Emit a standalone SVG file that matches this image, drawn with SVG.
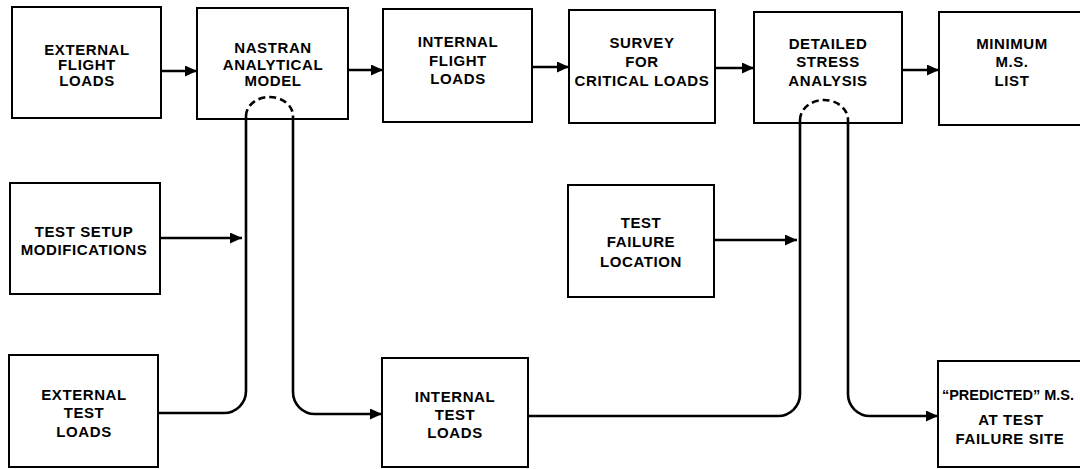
<svg xmlns="http://www.w3.org/2000/svg" width="1080" height="469" viewBox="0 0 1080 469">
<style>
.box{fill:#fff;stroke:#000;stroke-width:2}
.t{font-family:"Liberation Sans",Arial,sans-serif;font-weight:bold;font-size:15px;letter-spacing:0.6px;text-anchor:middle;fill:#000}
.c{fill:none;stroke:#000;stroke-width:2.6}
.d{fill:none;stroke:#000;stroke-width:2.6;stroke-dasharray:7 4}
</style>
<defs>
<marker id="ah" markerUnits="userSpaceOnUse" markerWidth="12" markerHeight="11" refX="12" refY="5.5" orient="auto">
<path d="M0,0 L12,5.5 L0,11 z" fill="#000"/>
</marker>
</defs>
<rect width="1080" height="469" fill="#fff"/>
<g id="n1"><rect class="box" x="12" y="7" width="149" height="111"/><text class="t" x="87" y="55">EXTERNAL</text><text class="t" x="87" y="70">FLIGHT</text><text class="t" x="87" y="86">LOADS</text></g>
<g id="n2"><rect class="box" x="197" y="8" width="151" height="111"/><text class="t" x="273" y="53">NASTRAN</text><text class="t" x="273" y="70">ANALYTICAL</text><text class="t" x="273" y="86">MODEL</text></g>
<g id="n3"><rect class="box" x="383" y="9" width="149" height="113"/><text class="t" x="458" y="47">INTERNAL</text><text class="t" x="458" y="66">FLIGHT</text><text class="t" x="458" y="84">LOADS</text></g>
<g id="n4"><rect class="box" x="569" y="10" width="146" height="113"/><text class="t" x="642" y="48">SURVEY</text><text class="t" x="642" y="67">FOR</text><text class="t" x="642" y="86">CRITICAL LOADS</text></g>
<g id="n5"><rect class="box" x="754" y="12" width="148" height="111"/><text class="t" x="828" y="49">DETAILED</text><text class="t" x="828" y="67">STRESS</text><text class="t" x="828" y="86">ANALYSIS</text></g>
<g id="n6"><rect class="box" x="939" y="12" width="150" height="113"/><text class="t" x="1012" y="49">MINIMUM</text><text class="t" x="1012" y="67">M.S.</text><text class="t" x="1012" y="86">LIST</text></g>
<g id="n7"><rect class="box" x="10" y="183" width="150" height="111"/><text class="t" x="84" y="237">TEST SETUP</text><text class="t" x="84" y="255">MODIFICATIONS</text></g>
<g id="n8"><rect class="box" x="9" y="355" width="149" height="112"/><text class="t" x="84" y="400">EXTERNAL</text><text class="t" x="84" y="418">TEST</text><text class="t" x="84" y="437">LOADS</text></g>
<g id="n9"><rect class="box" x="382" y="358" width="146" height="109"/><text class="t" x="455" y="402">INTERNAL</text><text class="t" x="455" y="420">TEST</text><text class="t" x="455" y="438">LOADS</text></g>
<g id="n10"><rect class="box" x="568" y="185" width="146" height="112"/><text class="t" x="641" y="228">TEST</text><text class="t" x="641" y="247">FAILURE</text><text class="t" x="641" y="267">LOCATION</text></g>
<g id="n11"><rect class="box" x="938" y="361" width="152" height="106"/><text class="t" x="1008" y="400" style="font-size:14.5px;letter-spacing:0">“PREDICTED” M.S.</text><text class="t" x="1011" y="425">AT TEST</text><text class="t" x="1010" y="444">FAILURE SITE</text></g>
<g id="connectors">
<path class="c" d="M161,71 H197" marker-end="url(#ah)"/>
<path class="c" d="M348,70 H383" marker-end="url(#ah)"/>
<path class="c" d="M532,67 H569" marker-end="url(#ah)"/>
<path class="c" d="M715,68 H754" marker-end="url(#ah)"/>
<path class="c" d="M902,70 H939" marker-end="url(#ah)"/>
<path class="c" d="M160,238 H242" marker-end="url(#ah)"/>
<path class="c" d="M714,240 H797" marker-end="url(#ah)"/>
<path class="d" d="M246,116 A23.5,19 0 0 1 293,116"/>
<path class="c" d="M158,413 H224 A22,22 0 0 0 246,391 V116"/>
<path class="c" d="M293,116 V392 A22,22 0 0 0 315,414 H382" marker-end="url(#ah)"/>
<path class="d" d="M800,120 A24,20 0 0 1 848,120"/>
<path class="c" d="M528,416 H778 A22,22 0 0 0 800,394 V120"/>
<path class="c" d="M848,120 V394 A22,22 0 0 0 870,416 H938" marker-end="url(#ah)"/>
</g>
</svg>
